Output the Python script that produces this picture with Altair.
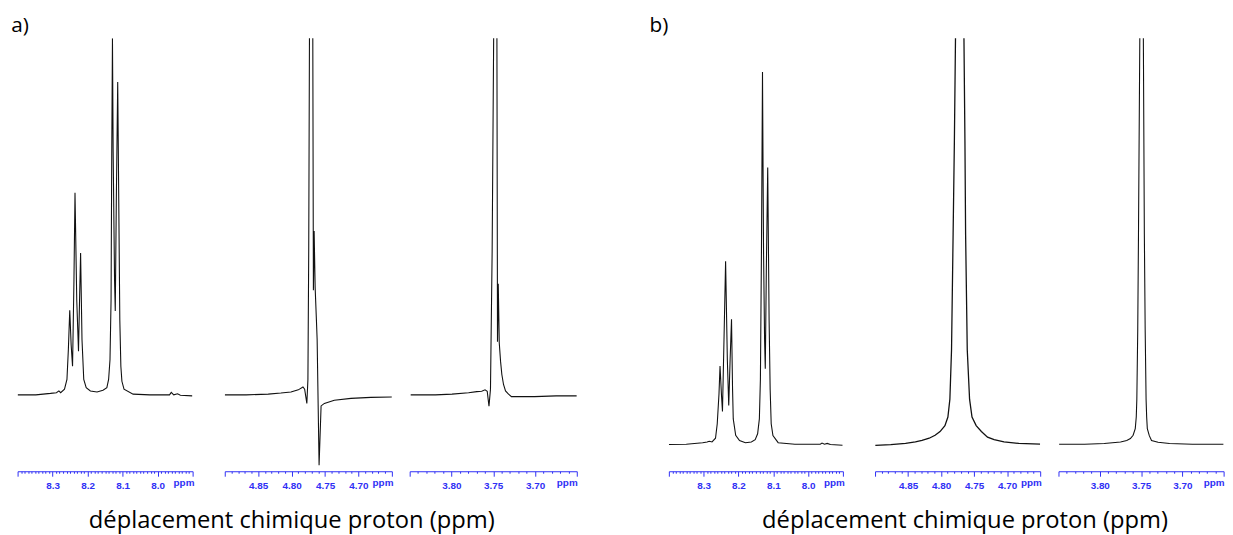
import altair as alt
import pandas as pd

# ---------------- data ----------------
# a) 8.x ppm region
a1_ppm = [8.400, 8.348, 8.306, 8.289, 8.282, 8.277, 8.266, 8.259, 8.255, 8.251, 8.247, 8.243,
          8.239, 8.236, 8.231, 8.226, 8.223, 8.220, 8.216, 8.211, 8.204, 8.192, 8.173, 8.156,
          8.145, 8.140, 8.136, 8.133, 8.131, 8.129, 8.127, 8.123, 8.121, 8.118, 8.114, 8.111,
          8.108, 8.105, 8.102, 8.096, 8.070, 8.022, 7.966, 7.961, 7.954, 7.943, 7.935, 7.901]
a1_int = [0.1, 0.1, 0.5, 0.7, 1.2, 0.7, 1.7, 4.4, 12.7, 23.8, 14.1, 8.1,
          32.1, 56.7, 26.6, 12.3, 26.6, 39.8, 15.5, 4.4, 2.1, 1.2, 0.9, 1.4,
          2.1, 4.4, 10.0, 26.6, 68.1, 100.0, 68.1, 32.1, 23.6, 54.3, 87.7, 54.3,
          21.1, 8.1, 3.9, 1.7, 0.3, 0.1, 0.1, 0.8, 0.1, 0.4, 0.0, -0.2]

# a) 4.x ppm region
a2_ppm = [4.9000, 4.868, 4.835, 4.816, 4.801, 4.790, 4.783, 4.7805, 4.7772, 4.7756, 4.7744,
          4.7733, 4.7708, 4.7683, 4.7674, 4.7663, 4.7648, 4.7629, 4.7618, 4.7589, 4.7559,
          4.7510, 4.7361, 4.7112, 4.6814, 4.6500]
a2_int = [0.1, 0.1, 0.3, 0.6, 0.9, 1.5, 2.3, 1.7, -2.3, 4.4, 40.4,
          100.0, 180.0, 100.0, 29.4, 46.0, 30.2, 21.1, 15.5, -19.6, -3.0,
          -2.3, -1.4, -0.9, -0.6, -0.5]

# a) 3.x ppm region
a3_ppm = [3.8488, 3.8192, 3.7993, 3.7795, 3.7697, 3.7638, 3.7598, 3.7572, 3.7551, 3.7533,
          3.7513, 3.7495, 3.7475, 3.7456, 3.7449, 3.7440, 3.7428, 3.7412, 3.7397, 3.7377,
          3.7353, 3.7317, 3.7282, 3.7163, 3.7005, 3.6748, 3.6500]
a3_int = [0.1, 0.1, 0.3, 0.7, 1.0, 1.1, 1.5, 1.1, -3.1, 1.7,
          40.4, 100.0, 180.0, 100.0, 15.0, 31.2, 14.7, 9.4, 5.8, 3.0,
          1.2, 0.3, -0.4, -0.4, -0.4, -0.2, -0.2]

# b) 8.x ppm region
b1_ppm = [8.400, 8.350, 8.303, 8.290, 8.284, 8.276, 8.266, 8.261, 8.256, 8.253, 8.249, 8.246,
          8.241, 8.237, 8.232, 8.228, 8.224, 8.220, 8.217, 8.215, 8.208, 8.197, 8.180, 8.163,
          8.152, 8.145, 8.140, 8.137, 8.134, 8.131, 8.128, 8.125, 8.123, 8.120, 8.116, 8.112,
          8.109, 8.106, 8.101, 8.086, 8.038, 7.965, 7.960, 7.953, 7.945, 7.936, 7.901]
b1_int = [0.0, 0.1, 0.5, 0.7, 0.9, 0.7, 1.7, 5.6, 13.6, 21.1, 13.6, 8.9,
          30.9, 49.3, 22.9, 10.5, 22.9, 33.7, 14.9, 6.9, 2.5, 1.1, 0.5, 0.7,
          1.3, 2.9, 6.9, 17.6, 52.1, 100.2, 52.1, 28.2, 20.4, 46.8, 74.5, 33.5,
          14.9, 5.6, 2.4, 0.5, 0.1, 0.1, 0.4, 0.1, 0.3, 0.0, -0.2]

# b) 4.x ppm region
b2_ppm = [4.8996, 4.8762, 4.8538, 4.8389, 4.8289, 4.8180, 4.8091, 4.8016, 4.7942, 4.7897,
          4.7867, 4.7842, 4.7818, 4.7799, 4.7782, 4.7718, 4.7654, 4.7639, 4.7629, 4.7604,
          4.7569, 4.7532, 4.7469, 4.7390, 4.7297, 4.7197, 4.7048, 4.6824, 4.6501]
b2_int = [-0.2, 0.0, 0.3, 0.7, 1.1, 1.7, 2.5, 3.5, 5.1, 7.4,
          12.2, 25.5, 56.6, 81.4, 109.3, 200.0, 109.3, 81.4, 56.6, 25.5,
          12.2, 7.4, 5.1, 3.5, 2.0, 1.3, 0.7, 0.3, 0.1]

# b) 3.x ppm region
b3_ppm = [3.8492, 3.8183, 3.7946, 3.7748, 3.7673, 3.7629, 3.7596, 3.7570, 3.7558, 3.7551,
          3.7540, 3.7531, 3.7515, 3.7493, 3.7472, 3.7460, 3.7450, 3.7439, 3.7432, 3.7424,
          3.7400, 3.7373, 3.7294, 3.7155, 3.6878, 3.6500]
b3_int = [0.1, 0.1, 0.3, 0.7, 1.1, 1.6, 2.5, 4.3, 7.4, 12.2,
          30.9, 56.6, 109.3, 200.0, 109.3, 56.6, 30.9, 12.2, 7.4, 4.3,
          2.4, 1.1, 0.6, 0.3, 0.1, 0.1]

# axis ranges (ppm) and the position of the "ppm" unit label
range_8 = [7.90, 8.40]
range_4 = [4.65, 4.90]
range_3 = [3.65, 3.85]
unit_pos_8 = 7.926
unit_pos_4 = 4.664
unit_pos_3 = 3.662

panel_labels = ["a)", "b)"]
x_title = "déplacement chimique proton (ppm)"

BLUE = "#2f2ff5"
PLOT_H = 438


def panel(ppm, inten, rng, unit_pos, major_mult, fmt, ydom, width, sw=1.1):
    df = pd.DataFrame({"ppm": ppm, "I": inten})
    lo, hi = rng
    n = int(round((hi - lo) / 0.01))
    ticks = [round(lo + i * 0.01, 2) for i in range(n + 1)] + [unit_pos]
    major = f"abs(datum.value*{major_mult} - round(datum.value*{major_mult})) < 0.001"
    inner = f"datum.value > {lo + 0.001} && datum.value < {hi - 0.001}"
    is_unit = f"abs(datum.value - {unit_pos}) < 0.0001"
    label_expr = f"({is_unit}) ? 'ppm' : ((({major}) && ({inner})) ? format(datum.value, '{fmt}') : '')"
    axis = alt.Axis(
        values=ticks, labelExpr=label_expr, title=None, grid=False,
        domainColor=BLUE, tickColor=BLUE, labelColor=BLUE,
        labelFont="Liberation Sans", labelFontWeight="bold", labelFontSize=10, labelPadding=4,
        labelOverlap=False, labelFlush=False, tickWidth=1, domainWidth=1,
        tickSize={"condition": {"test": major, "value": 5}, "value": 2},
        tickOpacity={"condition": {"test": is_unit, "value": 0}, "value": 1},
    )
    return (
        alt.Chart(df)
        .mark_line(clip=True, color="#111111", strokeWidth=sw)
        .encode(
            x=alt.X("ppm:Q", scale=alt.Scale(domain=[lo, hi], reverse=True, nice=False, zero=False), axis=axis),
            y=alt.Y("I:Q", scale=alt.Scale(domain=ydom, nice=False, zero=False), axis=None),
        )
        .properties(width=width, height=PLOT_H)
    )


ydom_a = [-21.3, 100.0]
ydom_b = [-7.18, 109.3]

a1 = panel(a1_ppm, a1_int, range_8, unit_pos_8, 10, ".1f", ydom_a, 177)
a2 = panel(a2_ppm, a2_int, range_4, unit_pos_4, 20, ".2f", ydom_a, 169)
a3 = panel(a3_ppm, a3_int, range_3, unit_pos_3, 20, ".2f", ydom_a, 169)
b1 = panel(b1_ppm, b1_int, range_8, unit_pos_8, 10, ".1f", ydom_b, 176)
b2 = panel(b2_ppm, b2_int, range_4, unit_pos_4, 20, ".2f", ydom_b, 167, sw=1.3)
b3 = panel(b3_ppm, b3_int, range_3, unit_pos_3, 20, ".2f", ydom_b, 167)


def bottom_title(dx):
    return alt.TitleParams(x_title, orient="bottom", anchor="middle", font="Open Sans",
                           fontSize=24, fontWeight="normal", color="black", dx=dx, offset=19)


def top_label(txt, dx):
    return alt.TitleParams(txt, orient="top", anchor="start", font="Open Sans",
                           fontSize=21, fontWeight="normal", color="black", dx=dx, offset=2.5)


groupA = alt.vconcat(
    alt.hconcat(a1, alt.hconcat(a2, a3, spacing=15), spacing=29.5, title=bottom_title(-5.5)),
    title=top_label(panel_labels[0], -6),
)
groupB = alt.vconcat(
    alt.hconcat(b1, alt.hconcat(b2, b3, spacing=15.5), spacing=29.5, title=bottom_title(19)),
    title=top_label(panel_labels[1], -19),
)

chart = (
    alt.hconcat(groupA, groupB, spacing=72.6)
    .properties(padding={"left": 2.7, "top": 3.5, "right": 0, "bottom": 0}, background="white")
    .configure_view(stroke=None)
)

chart.save("out.html", embed_options={"renderer": "svg", "actions": False})
